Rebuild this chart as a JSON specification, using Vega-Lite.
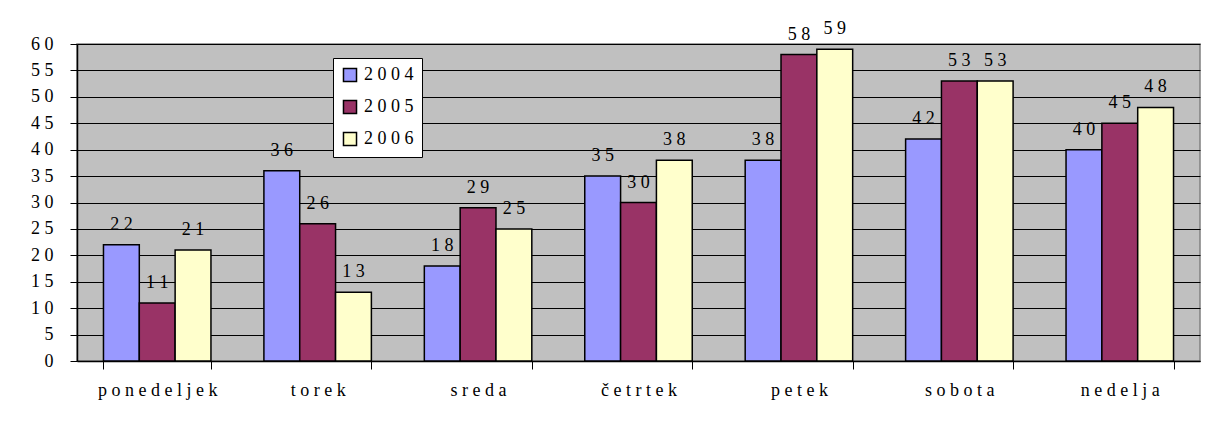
{
  "$schema": "https://vega.github.io/schema/vega-lite/v6.json",
  "autosize": "none",
  "width": 1123,
  "height": 317,
  "padding": {"left": 77, "top": 44, "right": 24, "bottom": 69},
  "background": "white",
  "data": {"values": [
    {"dan": "ponedeljek", "leto": "2004", "v": 22},
    {"dan": "ponedeljek", "leto": "2005", "v": 11},
    {"dan": "ponedeljek", "leto": "2006", "v": 21},
    {"dan": "torek", "leto": "2004", "v": 36},
    {"dan": "torek", "leto": "2005", "v": 26},
    {"dan": "torek", "leto": "2006", "v": 13},
    {"dan": "sreda", "leto": "2004", "v": 18},
    {"dan": "sreda", "leto": "2005", "v": 29},
    {"dan": "sreda", "leto": "2006", "v": 25},
    {"dan": "četrtek", "leto": "2004", "v": 35},
    {"dan": "četrtek", "leto": "2005", "v": 30},
    {"dan": "četrtek", "leto": "2006", "v": 38},
    {"dan": "petek", "leto": "2004", "v": 38},
    {"dan": "petek", "leto": "2005", "v": 58},
    {"dan": "petek", "leto": "2006", "v": 59},
    {"dan": "sobota", "leto": "2004", "v": 42},
    {"dan": "sobota", "leto": "2005", "v": 53},
    {"dan": "sobota", "leto": "2006", "v": 53},
    {"dan": "nedelja", "leto": "2004", "v": 40},
    {"dan": "nedelja", "leto": "2005", "v": 45},
    {"dan": "nedelja", "leto": "2006", "v": 48}
  ]},
  "encoding": {
    "x": {
      "field": "dan", "type": "nominal", "sort": null, "title": null,
      "scale": {"paddingInner": 0.33, "paddingOuter": 0.165},
      "axis": {
        "labelAngle": 0, "labelFont": "'Liberation Serif', 'Times New Roman', serif", "labelFontSize": 18,
        "labelColor": "black", "labelPadding": 12, "tickBand": "extent",
        "labelExpr": "join(split(datum.label, ''), ' ')",
        "tickSize": 8, "tickColor": "black", "domainColor": "black", "domainWidth": 1.5
      }
    },
    "xOffset": {"field": "leto", "type": "nominal", "scale": {"paddingInner": 0, "paddingOuter": 0}},
    "y": {
      "field": "v", "type": "quantitative", "title": null,
      "scale": {"domain": [0, 60], "nice": false},
      "axis": {
        "values": [0, 5, 10, 15, 20, 25, 30, 35, 40, 45, 50, 55, 60],
        "labelFont": "'Liberation Serif', 'Times New Roman', serif", "labelFontSize": 18, "labelColor": "black",
        "labelExpr": "join(split(datum.label, ''), ' ')",
        "labelPadding": 17, "tickSize": 7, "tickColor": "black",
        "domainColor": "black", "domainWidth": 1.5,
        "grid": true, "gridColor": "black", "gridWidth": 1
      }
    }
  },
  "layer": [
    {
      "mark": {"type": "bar", "stroke": "black", "strokeWidth": 1.5},
      "encoding": {
        "color": {
          "field": "leto", "type": "nominal", "title": null,
          "scale": {"domain": ["2004", "2005", "2006"], "range": ["#9999FF", "#993366", "#FFFFCC"]},
          "legend": {
            "orient": "none", "legendX": 256, "legendY": 14,
            "fillColor": "white", "strokeColor": "black", "padding": 8,
            "symbolType": "square", "symbolSize": 170, "symbolStrokeColor": "black",
            "symbolStrokeWidth": 1.5, "symbolOpacity": 1,
            "labelFont": "'Liberation Serif', 'Times New Roman', serif", "labelFontSize": 18, "labelColor": "black",
            "labelExpr": "join(split(datum.label, ''), ' ')",
            "rowPadding": 12, "labelOffset": 5
          }
        }
      }
    },
    {
      "mark": {"type": "text", "baseline": "alphabetic", "dy": -15, "font": "'Liberation Serif', 'Times New Roman', serif", "fontSize": 18, "color": "black",
        "text": {"expr": "join(split(toString(datum.v), ''), ' ')"}},
      "encoding": {}
    }
  ],
  "config": {
    "view": {"fill": "#C0C0C0", "stroke": "#808080", "strokeWidth": 1.5}
  }
}
